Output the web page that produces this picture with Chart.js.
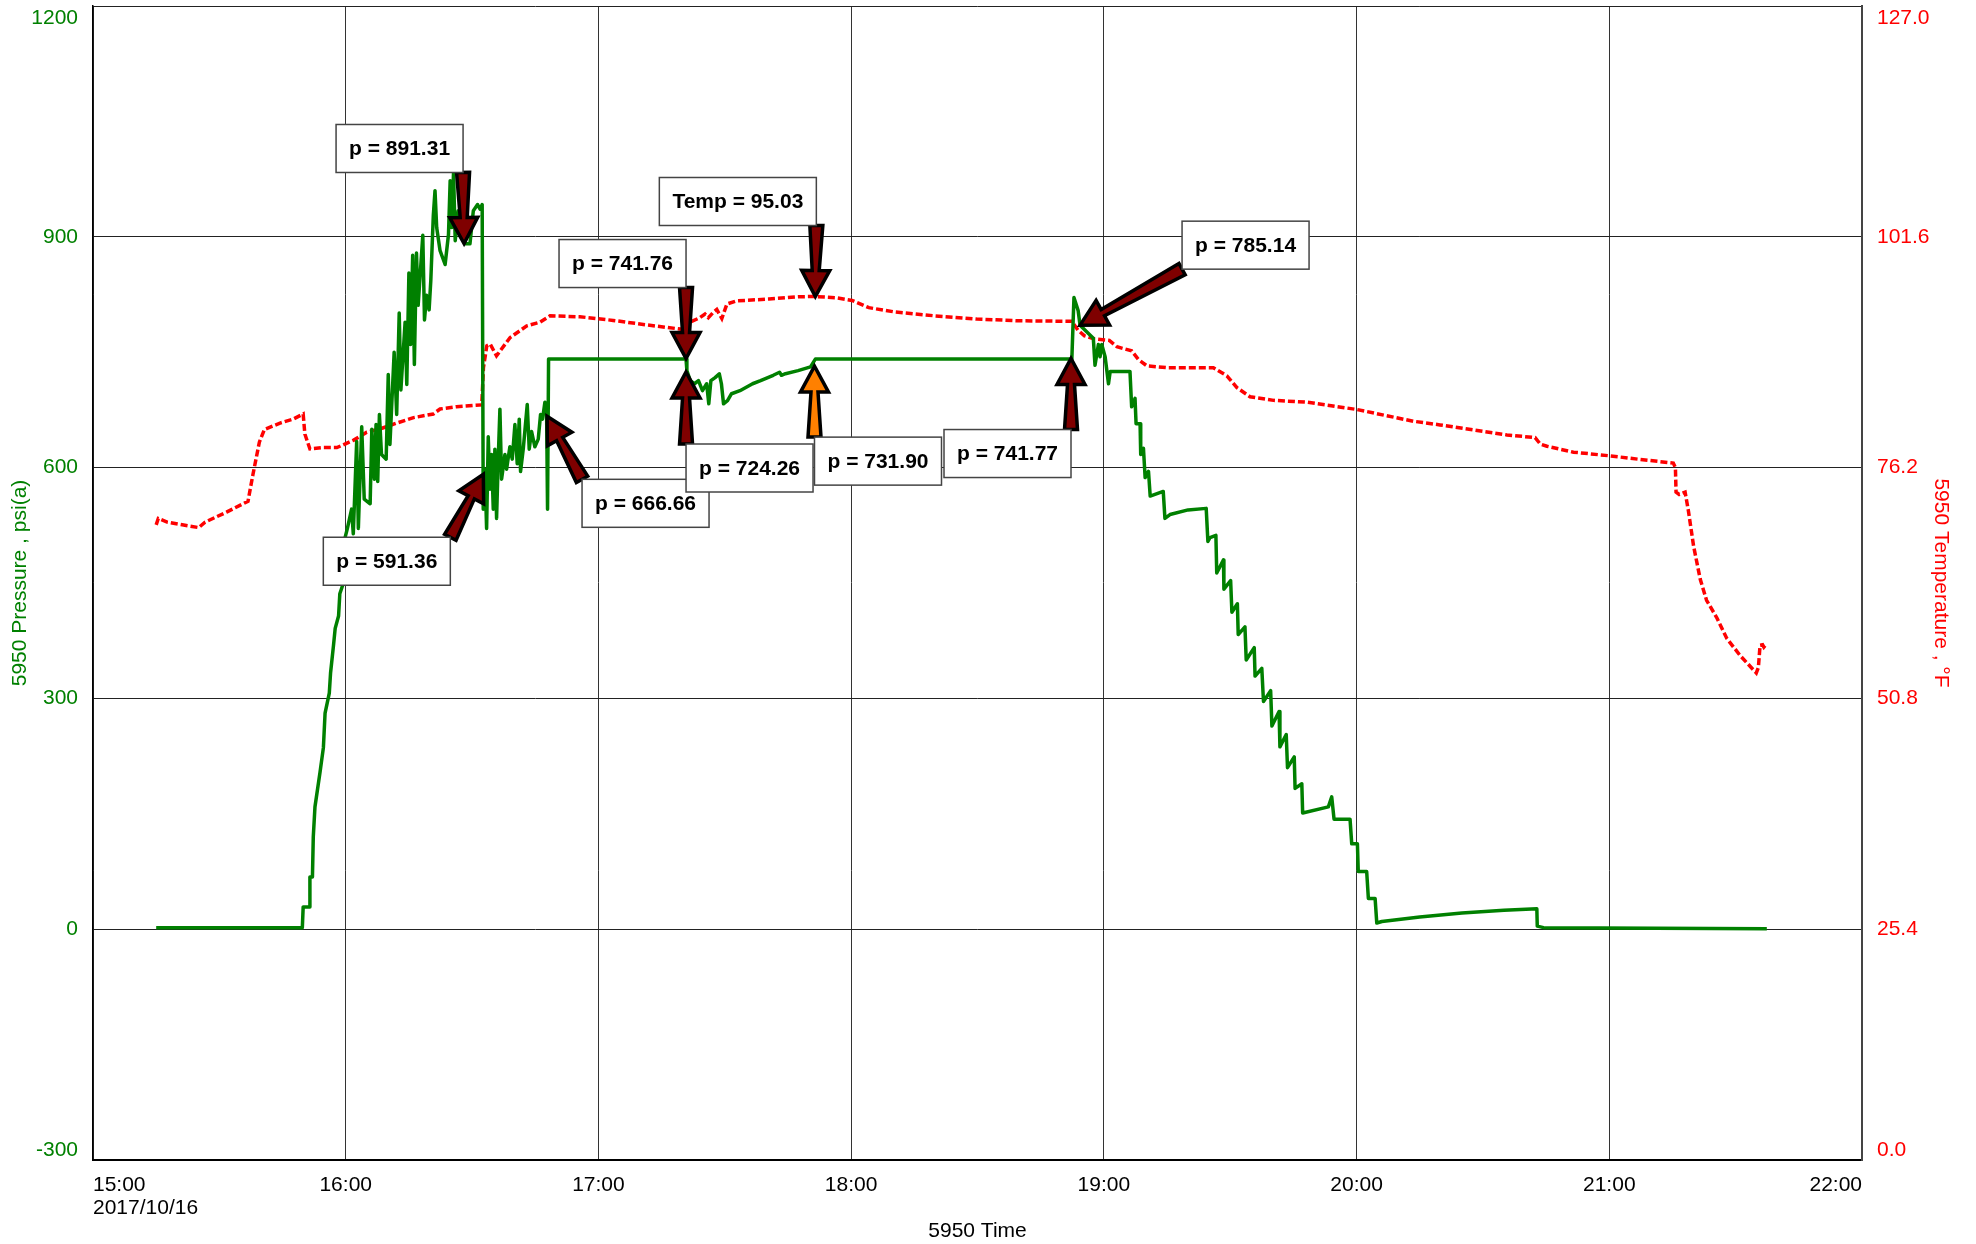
<!DOCTYPE html>
<html>
<head>
<meta charset="utf-8">
<title>5950 Pressure / Temperature</title>
<script src="https://cdn.jsdelivr.net/npm/chart.js@4.4.0/dist/chart.umd.min.js"></script>
<style>
  html, body { margin: 0; padding: 0; background: #fff; }
  #wrap { width: 1976px; height: 1244px; }
</style>
</head>
<body>
<div id="wrap"><canvas id="gaugeChart" width="1976" height="1244"></canvas></div>
<script>
// time axis is in minutes after 15:00 on 2017/10/16
const xTickLabels = ['15:00', '16:00', '17:00', '18:00', '19:00', '20:00', '21:00', '22:00'];
const xDateLabel = '2017/10/16';
const pressureTicks = [-300, 0, 300, 600, 900, 1200];
const tempTicks = ['0.0', '25.4', '50.8', '76.2', '101.6', '127.0'];

const pressureMinutes = [
  15.0, 30.0, 49.7, 49.9, 51.4, 51.5, 52.1, 52.3, 52.7, 53.9, 54.7, 55.1, 56.1, 56.4, 57.1, 57.5,
  58.3, 58.6, 59.4, 59.8, 60.4, 61.4, 61.8, 62.6, 63.0, 63.8, 64.4, 65.8, 66.2, 66.8, 67.2, 67.6,
  68.0, 68.5, 69.6, 70.1, 70.5, 71.5, 72.1, 72.7, 73.1, 74.1, 74.5, 75.0, 75.4, 75.9, 76.3, 76.8,
  77.2, 78.3, 78.7, 79.2, 79.8, 80.2, 80.8, 81.2, 81.6, 82.4, 83.6, 84.4, 84.8, 85.2, 85.6, 86.0,
  86.7, 88.3, 89.5, 90.3, 91.3, 91.9, 92.4, 92.65, 93.05, 93.45, 93.84, 94.24, 94.63, 95.03, 95.42,
  95.82, 96.21, 96.61, 97.01, 97.8, 98.19, 98.98, 99.54, 100.17, 100.72, 101.2, 101.51, 102.15,
  103.1, 103.57, 104.12, 104.91, 105.71, 106.26, 106.73, 107.29, 107.68, 107.92, 108.16,
  140.8, 141.0, 141.8, 142.8, 143.75, 144.7, 145.7, 146.2, 146.7, 147.7, 148.7, 149.2, 149.7,
  150.65, 151.6, 153.6, 156.6, 158.5, 161.5, 163.0, 163.45, 164.4, 167.4, 170.35, 171.5,
  232.4, 232.9, 233.9, 234.35, 234.9, 236.4, 237.5, 237.9, 238.7, 239.1, 239.5, 240.3, 241.1,
  241.5, 246.2, 246.6, 247.4, 247.65, 248.6, 248.75, 249.4, 249.8, 250.6, 251.0, 254.1, 254.5,
  255.7, 260.0, 264.3, 264.7, 265.2, 266.6, 266.8, 268.4, 268.5, 270.1, 270.4, 271.7, 271.9,
  273.5, 273.8, 275.7, 275.9, 277.5, 277.9, 279.6, 279.9, 281.6, 281.8, 283.3, 283.6, 285.2,
  285.4, 287.0, 287.2, 293.3, 294.1, 294.65, 298.45, 298.85, 300.2, 300.4, 302.4, 302.8, 304.4,
  304.8, 306.0, 315.0, 325.0, 335.0, 342.8, 342.9, 344.4, 397.4
];
const pressurePsi = [
  2, 2, 2, 29, 29, 68, 68, 120, 159, 204, 236, 281, 307, 333, 369, 391,
  407, 436, 449, 508, 521, 546, 514, 634, 521, 653, 559, 553, 650, 585, 656, 582,
  669, 617, 611, 721, 630, 750, 669, 801, 701, 789, 708, 853, 760, 876, 734, 879,
  811, 902, 792, 824, 805, 843, 928, 960, 912, 882, 864, 903, 973, 912, 984, 895,
  934, 891, 891, 934, 942, 936, 942, 546, 598, 521, 640, 572, 617, 546, 624,
  534, 611, 676, 585, 617, 598, 627, 611, 656, 605, 663, 595, 624,
  682, 624, 647, 627, 637, 669, 663, 685, 680, 546, 741,
  741, 726, 713, 709, 713, 700, 709, 683, 713, 717, 722, 709, 683,
  687, 696, 700, 709, 713, 720, 724, 720, 722, 726, 731, 741,
  741, 821, 804, 785, 782, 774, 768, 733, 760, 744, 760, 744, 709,
  725, 725, 679, 690, 657, 657, 617, 625, 587, 595, 563, 569, 534,
  539, 545, 547, 504, 509, 512, 463, 480, 442, 453, 412, 423, 383,
  393, 350, 366, 329, 339, 296, 310, 264, 283, 237, 253, 210, 224,
  183, 189, 151, 159, 172, 143, 143, 111, 111, 75, 75, 40, 40,
  8, 10, 16, 21, 24.5, 26.5, 4, 2, 0.5
];

const tempMinutes = [
  15.0, 15.5, 17.6, 21.2, 25.1, 26.6, 31.7, 36.8, 38.0, 39.5, 40.7, 44.4, 47.6, 49.9, 50.3, 51.5,
  54.7, 57.9, 61.8, 65.0, 68.1, 72.1, 76.1, 80.8, 82.4, 86.3, 92.3, 92.7, 93.5, 94.3, 95.8, 97.0,
  99.0, 103.0, 106.1, 108.5, 115.6, 123.5, 131.5, 139.4, 140.8, 141.7, 144.1, 145.3, 146.1, 147.3,
  148.1, 149.3, 150.5, 152.8, 160.5, 167.4, 171.5, 176.3, 180.2, 184.2, 190.1, 199.9, 209.8, 219.6,
  232.4, 233.9, 235.4, 237.8, 241.3, 243.1, 246.6, 248.2, 250.2, 254.9, 266.0, 269.2, 271.6, 274.7,
  280.3, 288.2, 300.0, 313.5, 319.8, 327.7, 335.7, 342.4, 343.6, 345.2, 351.5, 360.0, 367.3, 375.2,
  375.7, 375.85, 376.6, 378.0, 378.8, 380.0, 381.6, 383.1, 385.5, 387.9, 391.1, 394.9, 395.4, 395.8,
  396.4, 396.7, 397.4
];
const tempF = [
  69.9, 70.6, 70.2, 69.9, 69.6, 70.2, 71.3, 72.5, 75.5, 79.0, 80.4, 81.1, 81.55, 82.1, 79.9, 78.25,
  78.4, 78.4, 79.2, 80.1, 80.45, 81.1, 81.7, 82.1, 82.65, 82.9, 83.1, 87.2, 89.6, 89.8, 88.5, 89.25,
  90.5, 91.8, 92.2, 92.9, 92.8, 92.4, 91.9, 91.45, 91.2, 92.2, 92.7, 93.1, 92.7, 93.3,
  93.6, 92.6, 94.2, 94.55, 94.75, 95.0, 95.03, 94.9, 94.6, 93.8, 93.35, 92.9, 92.55, 92.36,
  92.3, 91.3, 90.7, 90.35, 90.2, 89.5, 89.05, 88.1, 87.4, 87.2, 87.2, 86.3, 85.0, 84.0,
  83.6, 83.4, 82.6, 81.3, 80.9, 80.35, 79.8, 79.5, 78.8, 78.55, 77.9, 77.5, 77.1, 76.7,
  76.2, 73.5, 73.25, 73.5, 71.4, 67.6, 63.9, 61.6, 59.7, 57.4, 55.5, 53.6, 54.2, 56.65,
  56.7, 56.45, 56.85
];

// value callouts: text, time (min after 15:00), value, which axis
const calloutLabels = ['p = 891.31', 'p = 591.36', 'p = 666.66', 'p = 741.76', 'Temp = 95.03',
  'p = 724.26', 'p = 731.90', 'p = 741.77', 'p = 785.14'];
const calloutMinutes = [88.1, 92.67, 107.8, 140.8, 171.5, 140.8, 171.3, 232.2, 234.35];
const calloutValues = [891.31, 591.36, 666.66, 741.76, 95.03, 724.26, 731.90, 741.77, 785.14];
const calloutAxis = ['y', 'y', 'y', 'y', 'y1', 'y', 'y', 'y', 'y'];

// arrow tail offset from the tip in px, box corner sitting on the tail, arrow fill
const calloutLayout = [
  { dx: -1, dy: -71, corner: 'br', fill: '#7f0000' },
  { dx: -33, dy: 63, corner: 'tr', fill: '#7f0000' },
  { dx: 35, dy: 63, corner: 'tl', fill: '#7f0000' },
  { dx: 0, dy: -71, corner: 'br', fill: '#7f0000' },
  { dx: 1, dy: -71, corner: 'br', fill: '#7f0000' },
  { dx: 0, dy: 72, corner: 'tl', fill: '#7f0000' },
  { dx: 0, dy: 71, corner: 'tl', fill: '#ff8000' },
  { dx: 0, dy: 71, corner: 'tr', fill: '#7f0000' },
  { dx: 102, dy: -56, corner: 'bl', fill: '#7f0000' }
];

const FONT = '"Liberation Sans", Arial, sans-serif';

function drawArrow(ctx, tx, ty, px, py, fill) {
  const len = Math.hypot(px - tx, py - ty);
  const ux = (px - tx) / len, uy = (py - ty) / len;
  const nx = -uy, ny = ux;
  const headLen = 26, headHalf = 14, tailHalf = 6.5, neckHalf = 3.5;
  const bx = px - ux * headLen, by = py - uy * headLen;
  ctx.beginPath();
  ctx.moveTo(tx + nx * tailHalf, ty + ny * tailHalf);
  ctx.lineTo(bx + nx * neckHalf, by + ny * neckHalf);
  ctx.lineTo(bx + nx * headHalf, by + ny * headHalf);
  ctx.lineTo(px, py);
  ctx.lineTo(bx - nx * headHalf, by - ny * headHalf);
  ctx.lineTo(bx - nx * neckHalf, by - ny * neckHalf);
  ctx.lineTo(tx - nx * tailHalf, ty - ny * tailHalf);
  ctx.closePath();
  ctx.fillStyle = fill;
  ctx.fill();
  ctx.lineWidth = 3.5;
  ctx.lineJoin = 'miter';
  ctx.strokeStyle = '#000';
  ctx.stroke();
}

const callouts = {
  id: 'callouts',
  afterDatasetsDraw(chart) {
    const { ctx, scales } = chart;
    ctx.save();
    ctx.font = 'bold 21px ' + FONT;
    const boxes = [];
    calloutLabels.forEach((label, i) => {
      const lay = calloutLayout[i];
      const px = scales.x.getPixelForValue(calloutMinutes[i]);
      const py = scales[calloutAxis[i]].getPixelForValue(calloutValues[i]);
      const tx = px + lay.dx, ty = py + lay.dy;
      drawArrow(ctx, tx, ty, px, py, lay.fill);
      const w = Math.round(ctx.measureText(label).width) + 26, h = 48;
      const left = lay.corner.includes('r') ? tx - w : tx;
      const top = lay.corner.includes('b') ? ty - h : ty;
      boxes.push({ label, left, top, w, h });
    });
    boxes.forEach(b => {
      ctx.fillStyle = '#fff';
      ctx.fillRect(b.left, b.top, b.w, b.h);
      ctx.lineWidth = 1.5;
      ctx.strokeStyle = '#444';
      ctx.strokeRect(b.left, b.top, b.w, b.h);
      ctx.fillStyle = '#000';
      ctx.textAlign = 'center';
      ctx.textBaseline = 'middle';
      ctx.fillText(b.label, b.left + b.w / 2, b.top + b.h / 2 + 1);
    });
    ctx.restore();
  }
};

const axisText = {
  id: 'axisText',
  afterDraw(chart) {
    const { ctx, chartArea: area, scales } = chart;
    const midY = (area.top + area.bottom) / 2;
    const clampY = y => Math.min(area.bottom - 10, Math.max(area.top + 12, y));
    ctx.save();
    ctx.font = '21px ' + FONT;
    ctx.textBaseline = 'middle';

    ctx.fillStyle = '#008000';
    ctx.textAlign = 'right';
    pressureTicks.forEach(v => {
      ctx.fillText(String(v), area.left - 15, clampY(scales.y.getPixelForValue(v)));
    });

    ctx.fillStyle = '#ff0000';
    ctx.textAlign = 'left';
    tempTicks.forEach(t => {
      ctx.fillText(t, area.right + 15, clampY(scales.y1.getPixelForValue(parseFloat(t))));
    });

    ctx.fillStyle = '#000';
    xTickLabels.forEach((t, i) => {
      const x = scales.x.getPixelForValue(i * 60);
      ctx.textAlign = i === 0 ? 'left' : (i === xTickLabels.length - 1 ? 'right' : 'center');
      ctx.fillText(t, x, area.bottom + 25);
    });
    ctx.textAlign = 'left';
    ctx.fillText(xDateLabel, area.left, area.bottom + 48);
    ctx.textAlign = 'center';
    ctx.fillText('5950 Time', (area.left + area.right) / 2, area.bottom + 71);

    ctx.save();
    ctx.translate(20, midY);
    ctx.rotate(-Math.PI / 2);
    ctx.fillStyle = '#008000';
    ctx.fillText('5950 Pressure , psi(a)', 0, 0);
    ctx.restore();

    ctx.save();
    ctx.translate(1941, midY);
    ctx.rotate(Math.PI / 2);
    ctx.fillStyle = '#ff0000';
    ctx.fillText('5950 Temperature , °F', 0, 0);
    ctx.restore();

    ctx.restore();
  }
};

const ctx = document.getElementById('gaugeChart').getContext('2d');
new Chart(ctx, {
  type: 'line',
  data: {
    datasets: [
      {
        label: '5950 Pressure',
        data: pressureMinutes.map((m, i) => ({ x: m, y: pressurePsi[i] })),
        yAxisID: 'y',
        borderColor: '#008000',
        borderWidth: 3.5,
        borderJoinStyle: 'round',
        pointRadius: 0,
        tension: 0,
        order: 0
      },
      {
        label: '5950 Temperature',
        data: tempMinutes.map((m, i) => ({ x: m, y: tempF[i] })),
        yAxisID: 'y1',
        borderColor: '#ff0000',
        borderWidth: 3.5,
        borderDash: [7, 3],
        pointRadius: 0,
        tension: 0,
        order: 1
      }
    ]
  },
  options: {
    responsive: false,
    animation: false,
    events: [],
    layout: { padding: { left: 93, right: 114, top: 6, bottom: 84 } },
    plugins: { legend: { display: false }, tooltip: { enabled: false } },
    scales: {
      x: {
        type: 'linear',
        min: 0,
        max: 420,
        ticks: { display: false, stepSize: 60 },
        grid: { color: '#333', lineWidth: 1, drawTicks: false },
        border: { display: true, color: '#000', width: 2 }
      },
      y: {
        position: 'left',
        min: -300,
        max: 1200,
        ticks: { display: false, stepSize: 300 },
        grid: { color: '#222', lineWidth: 1, drawTicks: false },
        border: { display: true, color: '#000', width: 1.5 }
      },
      y1: {
        position: 'right',
        min: 0,
        max: 127,
        ticks: { display: false, stepSize: 25.4 },
        grid: { display: false, drawTicks: false },
        border: { display: true, color: '#444', width: 2 }
      }
    }
  },
  plugins: [callouts, axisText]
});
</script>
</body>
</html>
